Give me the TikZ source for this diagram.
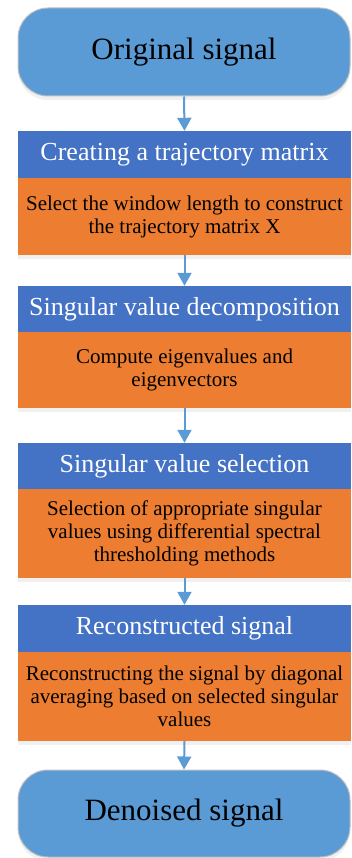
\documentclass[tikz,border=0pt]{standalone}
\usepackage{fontspec}
\setmainfont{Liberation Serif}
\usetikzlibrary{arrows.meta,shadows}
\definecolor{termblue}{HTML}{5B9BD5}
\definecolor{headblue}{HTML}{4472C4}
\definecolor{bodyorange}{HTML}{ED7D31}
\definecolor{rimgray}{HTML}{BFBFBF}
\begin{document}
\begin{tikzpicture}[x=1pt,y=-1pt,
    terminal/.style={draw=rimgray,line width=1pt,fill=termblue,rounded corners=30pt,
      minimum width=332pt,minimum height=88pt,inner sep=0pt,
      font=\fontsize{31}{34}\selectfont,
      drop shadow={opacity=0.12,shadow xshift=0pt,shadow yshift=-4pt}},
    header/.style={fill=headblue,minimum width=333pt,inner sep=0pt,text=white,
      font=\fontsize{26}{28}\selectfont},
    body/.style={fill=bodyorange,minimum width=333pt,inner sep=0pt,align=center,
      font=\fontsize{21}{23}\selectfont},
    flow/.style={draw=termblue,line width=2pt,-{Triangle[width=14pt,length=13pt]}}]
  \useasboundingbox (0,0) rectangle (351,858);
  % start and end
  \node[terminal] (orig) at (184,52) {Original signal};
  \node[terminal,minimum height=87pt] (den) at (184,813.5) {Denoised signal};
  % block 1: 131 -- 178 -- 255
  \node[body,drop shadow={opacity=0.12,shadow xshift=0pt,shadow yshift=-4pt},minimum height=77pt] (bd1) at (184.5,216.5)
    {Select the window length to construct\\the trajectory matrix X};
  \node[header,minimum height=47pt] (hd1) at (184.5,154.5) {Creating a trajectory matrix};
  % block 2: 286 -- 332 -- 408
  \node[body,drop shadow={opacity=0.12,shadow xshift=0pt,shadow yshift=-4pt},minimum height=76pt] (bd2) at (184.5,370)
    {Compute eigenvalues and\\eigenvectors};
  \node[header,minimum height=46pt] (hd2) at (184.5,309) {Singular value decomposition};
  % block 3: 443 -- 489 -- 578
  \node[body,drop shadow={opacity=0.12,shadow xshift=0pt,shadow yshift=-4pt},minimum height=89pt] (bd3) at (184.5,533.5)
    {Selection of appropriate singular\\values using differential spectral\\thresholding methods};
  \node[header,minimum height=46pt] (hd3) at (184.5,466) {Singular value selection};
  % block 4: 605 -- 652 -- 741
  \node[body,drop shadow={opacity=0.12,shadow xshift=0pt,shadow yshift=-4pt},minimum height=89pt] (bd4) at (184.5,696.5)
    {Reconstructing the signal by diagonal\\averaging based on selected singular\\values};
  \node[header,minimum height=47pt] (hd4) at (184.5,628.5) {Reconstructed signal};
  % arrows
  \draw[flow] (orig.south) -- (hd1.north);
  \draw[flow] (bd1.south) -- (hd2.north);
  \draw[flow] (bd2.south) -- (hd3.north);
  \draw[flow] (bd3.south) -- (hd4.north);
  \draw[flow] (bd4.south) -- (den.north);
\end{tikzpicture}
\end{document}
